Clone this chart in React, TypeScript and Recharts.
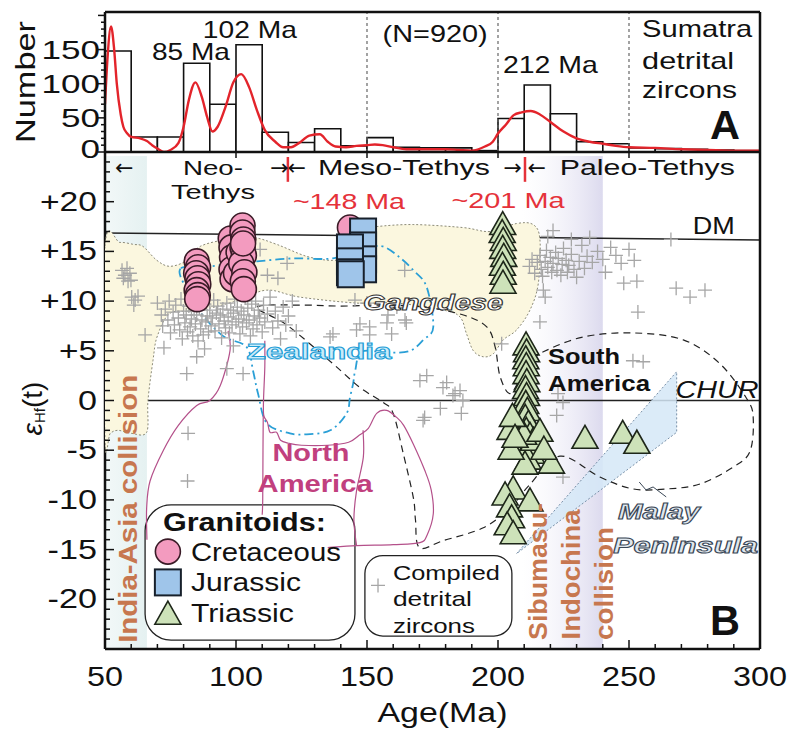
import React from "react";
import {
  ComposedChart,
  Line,
  Scatter,
  XAxis,
  YAxis,
  ReferenceLine,
  ReferenceArea,
  ReferenceDot,
} from "recharts";

const FONT = '"Liberation Sans", Arial, Helvetica, sans-serif';

// ---------- panel A: Sumatra detrital zircon ages ----------
const BIN_START = [50, 60, 70, 80, 90, 100, 110, 120, 130, 140, 150, 160, 170, 180, 190, 200, 210, 220, 230, 240, 250, 260, 270, 280, 290];
const BIN_COUNT = [148, 22, 22, 130, 70, 157, 29, 14, 34, 9, 21, 7, 6, 6, 2, 49, 98, 56, 15, 12, 6, 5, 4, 3, 2];

const KDE_AGE = [50, 51, 52.3, 53.5, 54.5, 56, 57, 58.5, 60, 63.4, 66, 68, 70, 72.5, 75, 78, 80, 82, 84.5, 87, 89, 91, 93, 96, 99, 102, 105, 108, 111, 115, 118, 121, 124, 128, 132, 135, 138, 142, 146, 150, 153, 156, 160, 165, 170, 175, 180, 185, 190, 195, 198, 200, 203, 206, 209, 212.5, 216, 220, 225, 230, 235, 240, 245, 250, 260, 270, 280, 290, 300];
const KDE_N = [70, 140, 184, 150, 100, 55, 37, 27, 22, 20, 16, 10, 5, 0, 3, 13, 37, 76, 102, 80, 51, 30, 37, 66, 102, 114, 95, 61, 32, 15, 7, 7, 13, 24, 26, 15, 8, 7, 9, 10, 11, 10, 7, 4, 4, 4, 4, 3, 2, 8, 15, 27, 40, 54, 58, 60, 55, 44, 30, 20, 15, 12, 9, 7, 6, 4, 3, 2, 2];

const NUM_TICKS = [0, 10, 20, 30, 40, 50, 60, 70, 80, 90, 100, 110, 120, 130, 140, 150, 160, 170, 180, 190, 200];
const AGE_MAJOR = [50, 100, 150, 200, 250, 300];
const AGE_TICKS = [50, 60, 70, 80, 90, 100, 110, 120, 130, 140, 150, 160, 170, 180, 190, 200, 210, 220, 230, 240, 250, 260, 270, 280, 290, 300];
const EPS_TICKS = [-25, -24, -23, -22, -21, -20, -19, -18, -17, -16, -15, -14, -13, -12, -11, -10, -9, -8, -7, -6, -5, -4, -3, -2, -1, 0, 1, 2, 3, 4, 5, 6, 7, 8, 9, 10, 11, 12, 13, 14, 15, 16, 17, 18, 19, 20, 21, 22, 23, 24, 25];

// ---------- panel B: granitoids (age, eHf) ----------
const CRETACEOUS: [number, number][] = [
  [143.5, 17.4],
  [85, 14.0], [85.5, 13.4], [84.8, 12.8], [85.3, 12.3], [85.6, 11.7], [85, 11.1], [85.4, 10.6], [85.2, 10.2],
  [98, 16.3], [98.3, 15.4], [98.5, 14.4], [98.3, 13.2], [98.7, 12.2], [100, 12.8], [101, 14.9],
  [102.5, 17.6], [102.5, 16.9], [102.8, 16.2], [102.5, 15.4], [103, 14.6], [102, 13.8], [103.2, 12.9], [102.6, 12.0], [103, 11.2], [102.7, 15.8],
];
const JURASSIC: [number, number][] = [
  [148.5, 17.0], [148.5, 15.6], [148.5, 14.2], [148.5, 13.2],
  [143.5, 15.4], [143.5, 14.0], [143.5, 12.9], [143.8, 12.7],
];
const TRIASSIC: [number, number][] = [
  [201.8, 17.8], [201.6, 17.0], [202, 16.2], [201.8, 15.4], [202.2, 14.6], [201.7, 13.7], [202, 12.8], [201.9, 11.9],
  [210.7, 5.7], [210.9, 5.0], [210.6, 4.3], [210.8, 3.6], [210.7, 2.8], [211, 2.0], [210.5, 1.3], [210.9, 0.6],
  [210.6, -0.2], [211.2, -0.9], [210.4, -1.6], [211.6, -2.2], [210.8, -2.9], [212.2, -3.4], [210.5, -4.0],
  [211.8, -4.6], [212.8, -5.2], [211.5, -5.8], [210.3, -6.3], [213.5, -3.9], [209.8, -3.3],
  [204.6, -2.8], [205.5, -1.5], [205, -4.8], [206.5, -3.6],
  [220.4, -6.2], [216, -3.0], [217.5, -4.8],
  [205.8, -8.8], [202.7, -9.4], [212.2, -10], [204.4, -10.6], [205.2, -11.7], [203.5, -12.4], [205.8, -13.3],
  [233.2, -3.7], [247.6, -3.2], [253, -4.2],
];
const DETRITAL: [number, number][] = [
  [56.5, 13.1], [57.6, 12.6], [58.4, 13.3], [59.5, 12.8], [59.9, 12.1], [57, 12.3], [58.8, 12.0],
  [60.2, 10.4], [61.5, 10.1], [62.6, 10.5], [61, 9.6], [65.3, 6.6],
  [70, 9.8], [71.5, 8.6], [72, 7.5], [73, 9.2], [74, 8.1], [74.5, 10.0], [75, 6.8], [76, 8.9], [76.5, 7.6], [77, 9.6],
  [78, 8.3], [78.5, 7.1], [79, 10.2], [79.5, 6.2], [80, 9.0], [80.5, 7.8], [81, 8.6], [81.5, 6.9], [82, 9.5], [82.5, 7.4],
  [83, 8.2], [83.5, 6.5], [84, 9.0], [84.5, 7.7], [85, 8.6], [85.5, 6.0], [86, 9.3], [86.5, 7.2], [87, 8.1], [87.5, 6.6],
  [88, 9.7], [88.5, 7.9], [89, 8.5], [89.5, 6.9], [90, 9.1], [90.5, 7.5], [91, 8.3], [91.5, 10.1], [92, 7.0], [92.5, 8.8],
  [93, 9.5], [93.5, 7.7], [94, 8.6], [94.5, 6.3], [95, 9.2], [95.5, 8.0], [96, 7.3], [96.5, 9.8], [97, 8.4], [97.5, 6.8],
  [98, 9.1], [98.5, 7.6], [99, 8.8], [99.5, 10.2], [100, 7.9], [100.5, 9.4], [101, 8.2], [101.5, 6.7], [102, 9.0], [102.5, 7.4],
  [103, 8.6], [103.5, 10.3], [104, 7.8], [104.5, 9.3], [105, 8.1], [105.5, 6.5], [106, 9.7], [106.5, 7.2], [107, 8.5], [107.5, 10.0],
  [108, 7.6], [108.5, 9.1], [109, 8.3], [110, 6.9], [110.5, 9.6], [111, 7.9], [112, 8.7], [113, 10.4], [114, 7.3], [115, 9.0],
  [116, 8.0], [117, 6.2], [118, 9.4], [119, 7.6], [120, 8.5], [121.5, 10.0], [123, 7.0],
  [81.2, 2.7], [85, 4.4], [96.5, 3.2], [102.7, 2.7], [88, 5.2], [99, 5.5], [72.5, 5.3],
  [109.2, 15.2], [116, 12.3], [119.5, 13.8], [112, 12.6],
  [135.9, 6.4], [137, 6.7], [146, 7.1], [147.3, 7.7], [151, 6.6], [157.6, 7.8], [164.5, 8.1], [150, 9.8], [161.4, 9.4],
  [145.4, 10.1], [158, 8.6], [159.4, 6.7], [164.4, 13.1], [151, 7.4],
  [81.7, -3.3], [81.5, -8.1],
  [171.4, -2.0], [179, 1.3], [182.8, 0.5], [172.8, 2.5], [180.4, 1.8], [183.6, 0.7], [186.6, 0], [170.2, 2.0], [185.5, 1.0],
  [172, -1.7], [186, -1.3], [178, -0.8],
  [201.4, 5.7], [216, 7.9], [217.3, 11.1], [218, 10.4], [224.8, -0.2], [222.4, -1.5], [222.9, 0.7], [224.8, -7.7], [165, 7.8],
  [212, 13.5], [213, 14.2], [214, 12.8], [215, 13.9], [216, 14.6], [216.5, 13.2], [217, 12.5], [218, 14.0], [218.5, 15.1], [219, 13.4],
  [220, 14.4], [220.5, 12.9], [221, 13.8], [222, 14.9], [222.5, 13.1], [223, 14.3], [224, 12.6], [224.5, 13.7], [225, 15.3], [226, 14.1],
  [226.5, 12.9], [227, 13.6], [228, 14.7], [229, 13.2], [230, 12.4], [231, 14.0], [232, 15.6], [233, 13.3], [234, 14.5], [236, 13.9],
  [238, 15.0], [240, 14.2], [241, 12.9], [243, 15.4], [245, 14.6], [247, 13.8], [250, 15.2], [252, 14.1], [253, 12.0], [248, 11.8],
  [219, 16.5], [221, 17.1], [228, 16.2], [235, 16.4],
  [266, 16.2], [268, 11.3], [273.3, 10.4], [253.4, 8.9], [251.5, 4.0], [255.4, 3.9], [279, 11.1],
];

// ---------- outlined fields (age, eHf) ----------
const GANGDESE: [number, number][] = [
  [50, 15.5], [55.7, 15.9], [61, 15.7], [64.5, 15.5], [69.8, 14.1], [74.8, 13.5], [81.3, 14.1], [86.3, 15.5], [96.5, 16.2],
  [106.5, 16.4], [115.6, 15.7], [127, 14.5], [137, 14.1], [142, 14.6], [147, 17.2], [153.7, 17.5], [167.6, 17.7], [186.6, 17.4],
  [197, 17.0], [207, 17.8], [213.4, 17.7], [216, 16.2], [215.4, 11.8], [212.2, 9.1], [207.1, 7.1], [202, 6.1], [198.2, 4.7],
  [194.4, 4.4], [190.6, 5.0], [188, 6.7], [185.5, 8.4], [179.1, 9.1], [161.3, 9.8], [146.1, 9.8], [124.4, 10.4], [111.7, 11.1],
  [100, 10], [85, 9], [75, 8.8], [70, 6.5], [68.3, 4.0], [66.4, 0], [65.9, -3.2], [60, -3.3], [55, -3], [52, -3.3], [50, -4],
];
const ZEALANDIA: [number, number][] = [
  [79, 13.3], [90, 13.5], [100, 13.8], [108, 14], [122, 14.3], [137, 14.3], [150, 15.3], [156, 15.5], [162, 14.5], [167.7, 13.1],
  [172.8, 11.4], [175.3, 7.4], [171.5, 6.1], [166.4, 5.0], [158, 4.8], [148, 4.9], [145.5, 3], [144.7, 1.7], [143.5, 0.3],
  [142.2, -1.3], [136, -3], [127, -3.4], [120.6, -3.3], [111.8, -2.3], [108.4, 0.7], [106.5, 3], [104, 5.4], [95, 6.5],
  [86, 9], [80.5, 11.5],
];
const SOUTH_AMERICA: [number, number][] = [
  [108, 9.4], [125, 9.6], [140, 9.5], [155, 9.6], [171.5, 9.4], [186.8, 8.6], [195.7, 7.4], [198.9, 5.4], [200.8, 2.4],
  [204.6, 0.7], [209, 2.5], [213, 4.0], [217.3, 4.9], [232.6, 6.4], [251.6, 6.8], [270.7, 6.1], [284.7, 3.7], [294.9, 0.2],
  [297.4, -1.7], [296.2, -5.1], [289.8, -6.7], [277.1, -8.4], [264.4, -8.9], [251.6, -8.9], [238.9, -7.7], [223.7, -5.6],
  [212, -8.5], [204.6, -10.8], [194.4, -12.8], [179.1, -14.1], [170, -14.8], [168.5, -12], [167.7, -9.8], [163.9, -5.4],
  [160, -1.3], [156.2, -0.2], [147.3, 1.3], [137, 3.7], [119.4, 7.6],
];
const NA_OUTER: [number, number][] = [
  [97, 7.0], [97.7, 5], [94, 1.5], [90, 0], [85, -0.5], [78, -2.5], [72.3, -5], [67.2, -8.1], [65.9, -10.8], [66, -14],
];
const NA_INNER: [number, number][] = [
  [111, 6], [111, 3.4], [110.5, 0], [110.6, -1.5], [112, -2.2], [113, -3.2], [115.5, -3.2], [117, -4], [120, -4.3], [125, -4.5],
  [135, -4.5], [143, -4.2], [147, -3.5], [150.5, -2.8], [153.7, -1.3], [157.5, -1], [161.3, -1.7], [164, -2.5], [167.7, -4.4],
  [172, -7], [174.5, -9], [175.3, -11.4], [173, -13.5], [170.2, -14.3], [160, -14.5], [146, -14.6], [135, -14.8],
];
const NA_STEM: [number, number][] = [[110.4, -1.5], [110.3, -5], [110.2, -10], [110, -11.5]];
const NA_FINGER: [number, number][] = [[148.5, -3], [148.6, -5.7], [146, -9.1], [145, -12], [146, -14.6]];
const MALAY: [number, number][] = [[207.1, -15.4], [268.2, 2.9], [268.2, -3.2]];
const MALAY_LEADER: [number, number][] = [[253.9, -8.2], [256.5, -9], [259.2, -8.7], [264.2, -9.7]];

const toXY = (pts: [number, number][]) => pts.map(([x, y]) => ({ x, y }));
const KDE_ROWS = KDE_AGE.map((x, i) => ({ x, n: KDE_N[i] }));

function curvePath(pts: { x: number; y: number }[], closed: boolean, smooth: boolean) {
  const n = pts.length;
  if (n < 2) return "";
  if (!smooth) return "M" + pts.map((p) => `${p.x},${p.y}`).join("L") + (closed ? "Z" : "");
  const g = (i: number) => (closed ? pts[(i + n) % n] : pts[Math.max(0, Math.min(n - 1, i))]);
  let d = `M${pts[0].x},${pts[0].y}`;
  const segs = closed ? n : n - 1;
  for (let i = 0; i < segs; i++) {
    const p0 = g(i - 1), p1 = g(i), p2 = g(i + 1), p3 = g(i + 2);
    const c1x = p1.x + (p2.x - p0.x) / 6, c1y = p1.y + (p2.y - p0.y) / 6;
    const c2x = p2.x - (p3.x - p1.x) / 6, c2y = p2.y - (p3.y - p1.y) / 6;
    d += `C${c1x},${c1y} ${c2x},${c2y} ${p2.x},${p2.y}`;
  }
  return d + (closed ? "Z" : "");
}

type OutlineStyle = { fill?: string; stroke: string; width: number; dash?: string; closed: boolean; smooth: boolean; opacity?: number };
const outline = (s: OutlineStyle) => (p: any) => (
  <path
    d={curvePath(p.points || [], s.closed, s.smooth)}
    fill={s.fill || "none"}
    fillOpacity={s.opacity ?? 1}
    stroke={s.stroke}
    strokeWidth={s.width}
    strokeDasharray={s.dash}
  />
);
const blank = () => <g />;

const circleShape = (p: any) => <circle cx={p.cx} cy={p.cy} r={12.5} fill="#f39bbf" stroke="#3a1b27" strokeWidth={1.6} />;
const squareShape = (p: any) => <rect x={p.cx - 13} y={p.cy - 13} width={26} height={26} fill="#9fc5ea" stroke="#17202b" strokeWidth={2} />;
const triShape = (p: any) => (
  <path d={`M${p.cx},${p.cy - 12}L${p.cx + 13},${p.cy + 11}L${p.cx - 13},${p.cy + 11}Z`} fill="#cde2b9" stroke="#1d2619" strokeWidth={1.6} />
);
const crossShape = (p: any) => (
  <path d={`M${p.cx - 7},${p.cy}H${p.cx + 7}M${p.cx},${p.cy - 7}V${p.cy + 7}`} stroke="#a6a6a6" strokeWidth={1.3} fill="none" />
);

type Note = {
  x: number; y: number; text: string; size: number; w?: number;
  anchor?: "start" | "middle" | "end"; weight?: number; italic?: boolean;
  fill?: string; stroke?: string; sw?: number; rot?: number; family?: string;
};

const noteLabel = (n: Note) => (props: any) => {
  const vb = props.viewBox || {};
  const cx = (vb.x ?? 0) + (vb.width ?? 0) / 2;
  const cy = (vb.y ?? 0) + (vb.height ?? 0) / 2;
  return (
    <text
      x={cx}
      y={cy}
      transform={n.rot ? `rotate(${n.rot} ${cx} ${cy})` : undefined}
      textAnchor={n.anchor || "middle"}
      dominantBaseline="central"
      fontFamily={n.family || FONT}
      fontSize={n.size}
      fontWeight={n.weight || 400}
      fontStyle={n.italic ? "italic" : "normal"}
      fill={n.fill || "#111"}
      stroke={n.stroke}
      strokeWidth={n.sw}
      textLength={n.w}
      lengthAdjust={n.w ? "spacingAndGlyphs" : undefined}
    >
      {n.text}
    </text>
  );
};

const ARROW = '"DejaVu Sans", sans-serif';
const RED = "#e5323a";
const BROWN = "#c7774f";

const NOTES_A: Note[] = [
  { x: 82.8, y: 146.8, text: "85 Ma", size: 24, w: 78 },
  { x: 105.3, y: 179.6, text: "102 Ma", size: 24, w: 94 },
  { x: 176, y: 174, text: "(N=920)", size: 24, w: 105 },
  { x: 220, y: 127.4, text: "212 Ma", size: 24, w: 95 },
  { x: 255, y: 181.5, text: "Sumatra", size: 24, w: 110, anchor: "start" },
  { x: 255, y: 134.7, text: "detrital", size: 24, w: 92, anchor: "start" },
  { x: 255, y: 90.8, text: "zircons", size: 24, w: 95, anchor: "start" },
  { x: 286.6, y: 39.5, text: "A", size: 40, w: 30, weight: 700 },
];

const NOTES_B: Note[] = [
  { x: 57.3, y: 23.4, text: "←", size: 22, family: ARROW },
  { x: 116.6, y: 23.4, text: "→", size: 22, family: ARROW },
  { x: 123.2, y: 23.4, text: "←", size: 22, family: ARROW },
  { x: 205.6, y: 23.4, text: "→", size: 22, family: ARROW },
  { x: 214.8, y: 23.4, text: "←", size: 22, family: ARROW },
  { x: 91.2, y: 23.4, text: "Neo-", size: 21, w: 60 },
  { x: 91.2, y: 21.0, text: "Tethys", size: 21, w: 84 },
  { x: 164.1, y: 23.4, text: "Meso-Tethys", size: 22, w: 172 },
  { x: 257, y: 23.4, text: "Paleo-Tethys", size: 22, w: 175 },
  { x: 143.1, y: 20.0, text: "~148 Ma", size: 22, w: 112, fill: RED },
  { x: 203.8, y: 20.1, text: "~201 Ma", size: 22, w: 113, fill: RED },
  { x: 282.4, y: 17.6, text: "DM", size: 24, w: 42 },
  { x: 283.6, y: 1.1, text: "CHUR", size: 24, w: 83, italic: true },
  { x: 175.2, y: 9.9, text: "Gangdese", size: 22, w: 140, weight: 700, italic: true, fill: "#ffffff", stroke: "#333", sw: 1 },
  { x: 131.7, y: 4.9, text: "Zealandia", size: 22, w: 145, weight: 700, fill: "#c9ecfa", stroke: "#1e9dd6", sw: 1 },
  { x: 128.6, y: -5.2, text: "North", size: 24, w: 77, weight: 700, fill: "#c1407e" },
  { x: 130.2, y: -8.3, text: "America", size: 24, w: 115, weight: 700, fill: "#c1407e" },
  { x: 219.1, y: 4.4, text: "South", size: 22, w: 72, weight: 700, anchor: "start" },
  { x: 219.1, y: 1.7, text: "America", size: 22, w: 102, weight: 700, anchor: "start" },
  { x: 245.8, y: -11.2, text: "Malay", size: 22, w: 82, weight: 700, italic: true, anchor: "start", fill: "#dfe7ee", stroke: "#3a4756", sw: 1 },
  { x: 243.9, y: -14.6, text: "Peninsula", size: 22, w: 145, weight: 700, italic: true, anchor: "start", fill: "#dfe7ee", stroke: "#3a4756", sw: 1 },
  { x: 58.8, y: -10.9, text: "India-Asia collision", size: 25, w: 268, weight: 700, fill: BROWN, rot: -90 },
  { x: 215.3, y: -17.2, text: "Sibumasu-", size: 25, w: 137, weight: 700, fill: BROWN, rot: -90 },
  { x: 227.9, y: -17.5, text: "Indochina", size: 25, w: 130, weight: 700, fill: BROWN, rot: -90 },
  { x: 240.5, y: -18.4, text: "collision", size: 25, w: 113, weight: 700, fill: BROWN, rot: -90 },
  { x: 286.6, y: -22.1, text: "B", size: 42, w: 30, weight: 700 },
  { x: 72.1, y: -12.2, text: "Granitoids:", size: 25, w: 163, weight: 700, anchor: "start" },
  { x: 82.8, y: -15.2, text: "Cretaceous", size: 25, w: 150, anchor: "start" },
  { x: 82.8, y: -18.3, text: "Jurassic", size: 25, w: 110, anchor: "start" },
  { x: 82.8, y: -21.4, text: "Triassic", size: 25, w: 103, anchor: "start" },
  { x: 159.9, y: -17.3, text: "Compiled", size: 21, w: 107, anchor: "start" },
  { x: 159.9, y: -19.9, text: "detrital", size: 21, w: 79, anchor: "start" },
  { x: 159.9, y: -22.6, text: "zircons", size: 21, w: 82, anchor: "start" },
];

const wide = (s: string, dw: number) => [...s].reduce((a, c) => a + (c === "-" ? dw * 0.6 : dw), 0);

const numTick = (p: any) => {
  const v = p.payload.value;
  const major = v % 50 === 0;
  const s = String(v);
  return (
    <g>
      <line x1={p.x} x2={p.x - (major ? 7 : 4)} y1={p.y} y2={p.y} stroke="#111" strokeWidth={1.5} />
      {major && v <= 150 && (
        <text x={p.x - 5} y={v === 0 ? p.y - 3 : p.y} textAnchor="end" dominantBaseline="central" fontFamily={FONT} fontSize={25} fill="#111"
          textLength={wide(s, 19.5)} lengthAdjust="spacingAndGlyphs">{s}</text>
      )}
    </g>
  );
};
const ageTickA = (p: any) => <line x1={p.x} x2={p.x} y1={p.y} y2={p.y + 6} stroke="#111" strokeWidth={1.5} />;
const epsTick = (p: any) => {
  const v = p.payload.value;
  const major = v % 5 === 0;
  const s = v > 0 ? `+${v}` : `${v}`;
  return (
    <g>
      <line x1={p.x} x2={p.x + (major ? 9 : 5)} y1={p.y} y2={p.y} stroke="#111" strokeWidth={1.5} />
      {major && Math.abs(v) < 25 && (
        <text x={p.x - 8} y={p.y} textAnchor="end" dominantBaseline="central" fontFamily={FONT} fontSize={27} fill="#111"
          textLength={wide(s, 19)} lengthAdjust="spacingAndGlyphs">{s}</text>
      )}
    </g>
  );
};
const ageTickB = (p: any) => {
  const v = p.payload.value;
  const major = v % 50 === 0;
  const s = String(v);
  return (
    <g>
      <line x1={p.x} x2={p.x} y1={p.y} y2={p.y - (major ? 9 : 5)} stroke="#111" strokeWidth={1.5} />
      {major && (
        <text x={p.x} y={p.y + 28} textAnchor="middle" dominantBaseline="central" fontFamily={FONT} fontSize={27} fill="#111"
          textLength={wide(s, 18)} lengthAdjust="spacingAndGlyphs">{s}</text>
      )}
    </g>
  );
};

const roundBox = (r: number) => (p: any) => (
  <rect x={p.x} y={p.y} width={p.width} height={p.height} rx={r} ry={r} fill="#fff" stroke="#222" strokeWidth={1.3} />
);

const AXIS = { stroke: "#111", strokeWidth: 2.5 };

function PanelA() {
  return (
    <ComposedChart width={789} height={170} data={KDE_ROWS} margin={{ top: 12, right: 29, bottom: 0, left: 0 }}>
      <XAxis dataKey="x" type="number" domain={[50, 300]} ticks={AGE_MAJOR} interval={0} height={18}
        axisLine={AXIS} tickLine={false} tickSize={0} tickMargin={0} tick={ageTickA} allowDataOverflow />
      <YAxis type="number" domain={[0, 205]} ticks={NUM_TICKS} interval={0} width={105}
        axisLine={AXIS} tickLine={false} tickSize={0} tickMargin={0} tick={numTick} allowDataOverflow
        label={(p: any) => {
          const vb = p.viewBox || {};
          const x = (vb.x ?? 0) + 26, y = (vb.y ?? 0) + 70;
          return (
            <text x={x} y={y} transform={`rotate(-90 ${x} ${y})`} textAnchor="middle" dominantBaseline="central"
              fontFamily={FONT} fontSize={27} fill="#111" textLength={122} lengthAdjust="spacingAndGlyphs">Number</text>
          );
        }} />
      {BIN_START.map((b, i) => (
        <ReferenceArea key={`bin${i}`} x1={b} x2={b + 10} y1={0} y2={BIN_COUNT[i]} fill="#fff" fillOpacity={1}
          stroke="#111" strokeWidth={1.6} />
      ))}
      {[150, 200, 250].map((v) => (
        <ReferenceLine key={`d${v}`} x={v} stroke="#666" strokeDasharray="3 3" strokeWidth={1.2} />
      ))}
      <Line dataKey="n" type="monotone" stroke="#e3242b" strokeWidth={2.4} dot={false} isAnimationActive={false} />
      {NOTES_A.map((n, i) => (
        <ReferenceDot key={`na${i}`} x={n.x} y={n.y} r={0} fill="none" stroke="none" ifOverflow="visible" label={noteLabel(n)} />
      ))}
      <ReferenceLine y={205} stroke="#111" strokeWidth={2.5} ifOverflow="visible" />
      <ReferenceLine x={300} stroke="#111" strokeWidth={2.5} ifOverflow="visible" />
    </ComposedChart>
  );
}

function PanelB() {
  return (
    <ComposedChart width={789} height={731} margin={{ top: 152, right: 29, bottom: 0, left: 0 }}>
      <defs>
        <linearGradient id="gIndia" x1="0" x2="1" y1="0" y2="0">
          <stop offset="0%" stopColor="#f2f8f8" />
          <stop offset="100%" stopColor="#e5f1f1" />
        </linearGradient>
        <linearGradient id="gSibu" x1="0" x2="1" y1="0" y2="0">
          <stop offset="0%" stopColor="#f4f3fa" stopOpacity={0} />
          <stop offset="100%" stopColor="#dcdaee" />
        </linearGradient>
      </defs>
      <XAxis dataKey="x" type="number" domain={[50, 300]} ticks={AGE_TICKS} interval={0} height={82}
        axisLine={AXIS} tickLine={false} tickSize={0} tickMargin={0} tick={ageTickB} allowDataOverflow
        label={(p: any) => {
          const vb = p.viewBox || {};
          const x = (vb.x ?? 0) + (vb.width ?? 0) / 2 + 10, y = (vb.y ?? 0) + 64;
          return (
            <text x={x} y={y} textAnchor="middle" dominantBaseline="central" fontFamily={FONT} fontSize={27} fill="#111"
              textLength={130} lengthAdjust="spacingAndGlyphs">Age(Ma)</text>
          );
        }} />
      <YAxis dataKey="y" type="number" domain={[-25, 25]} ticks={EPS_TICKS} interval={0} width={105}
        axisLine={AXIS} tickLine={false} tickSize={0} tickMargin={0} tick={epsTick} allowDataOverflow
        label={(p: any) => {
          const vb = p.viewBox || {};
          const x = (vb.x ?? 0) + 32, y = (vb.y ?? 0) + (vb.height ?? 0) / 2 + 8;
          return (
            <text x={x} y={y} transform={`rotate(-90 ${x} ${y})`} textAnchor="middle" dominantBaseline="central"
              fontFamily={FONT} fontSize={28} fill="#111">
              <tspan fontStyle="italic">ε</tspan>
              <tspan fontSize={15} dy={7}>Hf</tspan>
              <tspan dy={-7}>(t)</tspan>
            </text>
          );
        }} />

      <ReferenceArea x1={50} x2={66} y1={-25} y2={24.6} fill="url(#gIndia)" fillOpacity={1} stroke="none" />
      <ReferenceArea x1={209} x2={240} y1={-25} y2={24.6} fill="url(#gSibu)" fillOpacity={1} stroke="none" />

      <Scatter data={toXY(GANGDESE)} shape={blank} isAnimationActive={false} legendType="none"
        line={outline({ fill: "#fbf7df", stroke: "#8b8a78", width: 1, dash: "2 2", closed: true, smooth: true })} />
      <Scatter data={toXY(MALAY)} shape={blank} isAnimationActive={false} legendType="none"
        line={outline({ fill: "#d5e7f7", opacity: 0.85, stroke: "#7890a8", width: 1, dash: "2 2", closed: true, smooth: false })} />
      <Scatter data={toXY(ZEALANDIA)} shape={blank} isAnimationActive={false} legendType="none"
        line={outline({ stroke: "#2a9fd6", width: 1.8, dash: "9 4 2 4", closed: true, smooth: true })} />
      <Scatter data={toXY(SOUTH_AMERICA)} shape={blank} isAnimationActive={false} legendType="none"
        line={outline({ stroke: "#222", width: 1.2, dash: "7 5", closed: true, smooth: true })} />
      {[NA_OUTER, NA_INNER, NA_STEM, NA_FINGER].map((pts, i) => (
        <Scatter key={`na${i}`} data={toXY(pts)} shape={blank} isAnimationActive={false} legendType="none"
          line={outline({ stroke: "#b4508a", width: 1.2, closed: false, smooth: true })} />
      ))}
      <Scatter data={toXY(MALAY_LEADER)} shape={blank} isAnimationActive={false} legendType="none"
        line={outline({ stroke: "#3a4756", width: 1, closed: false, smooth: false })} />

      <ReferenceLine segment={[{ x: 50, y: 16.85 }, { x: 300, y: 16.15 }]} stroke="#222" strokeWidth={1.5} />
      <ReferenceLine y={0} stroke="#222" strokeWidth={1.5} />
      <ReferenceLine segment={[{ x: 119.8, y: 22.0 }, { x: 119.8, y: 24.5 }]} stroke={RED} strokeWidth={2.5} />
      <ReferenceLine segment={[{ x: 210.3, y: 22.0 }, { x: 210.3, y: 24.5 }]} stroke={RED} strokeWidth={2.5} />

      <Scatter data={toXY(DETRITAL)} shape={crossShape} isAnimationActive={false} legendType="none" />
      <Scatter data={toXY(CRETACEOUS)} shape={circleShape} isAnimationActive={false} legendType="none" />
      <Scatter data={toXY(JURASSIC)} shape={squareShape} isAnimationActive={false} legendType="none" />
      <Scatter data={toXY(TRIASSIC)} shape={triShape} isAnimationActive={false} legendType="none" />

      <ReferenceArea x1={65.3} x2={145.4} y1={-24.1} y2={-10.5} shape={roundBox(26)} />
      <ReferenceArea x1={149.2} x2={205.3} y1={-23.7} y2={-15.6} shape={roundBox(18)} />
      <ReferenceDot x={74} y={-15.2} r={12} shape={circleShape} />
      <ReferenceDot x={74} y={-18.3} r={12} shape={squareShape} />
      <ReferenceDot x={74} y={-21.4} r={12} shape={triShape} />
      <ReferenceDot x={154.2} y={-18.6} r={7} shape={crossShape} />

      {NOTES_B.map((n, i) => (
        <ReferenceDot key={`nb${i}`} x={n.x} y={n.y} r={0} fill="none" stroke="none" ifOverflow="visible" label={noteLabel(n)} />
      ))}
      <ReferenceLine x={300} stroke="#111" strokeWidth={2.5} ifOverflow="visible" />
    </ComposedChart>
  );
}

export default function App() {
  return (
    <div style={{ position: "absolute", left: 0, top: 0, width: 789, height: 731, background: "#fff" }}>
      <div style={{ position: "absolute", left: 0, top: 0 }}>
        <PanelB />
      </div>
      <div style={{ position: "absolute", left: 0, top: 0 }}>
        <PanelA />
      </div>
    </div>
  );
}
